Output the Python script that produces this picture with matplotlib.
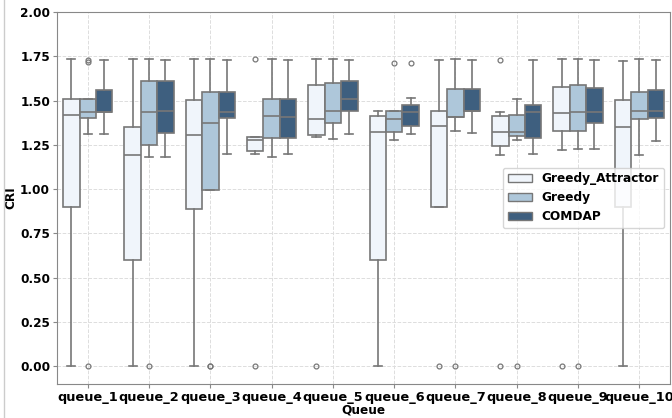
import numpy as np
import matplotlib.pyplot as plt
from matplotlib.patches import Patch
from matplotlib.lines import Line2D

queues = [f"queue_{i}" for i in range(1, 11)]
algos = ["Greedy_Attractor", "Greedy", "COMDAP"]
colors = ["#f0f5fb", "#aec7da", "#3e5f7f"]

# box stats: whislo, q1, med, q3, whishi
ga_whislo = [0.00, 0.00, 0.00, 1.197, 1.295, 0.00, 0.90, 1.195, 1.222, 0.00]
ga_q1 = [0.90, 0.60, 0.887, 1.217, 1.306, 0.60, 0.90, 1.246, 1.327, 0.90]
ga_med = [1.42, 1.195, 1.303, 1.278, 1.395, 1.32, 1.354, 1.32, 1.432, 1.351]
ga_q3 = [1.51, 1.35, 1.506, 1.292, 1.586, 1.414, 1.44, 1.412, 1.579, 1.506]
ga_whishi = [1.735, 1.735, 1.735, 1.297, 1.735, 1.44, 1.729, 1.434, 1.735, 1.726]
ga_fliers = [[], [], [], [1.735, 0.0], [0.0], [], [0.0], [1.729, 0.0], [0.0], []]

gr_whislo = [1.314, 1.179, 0.994, 1.179, 1.284, 1.278, 1.326, 1.278, 1.229, 1.192]
gr_q1 = [1.404, 1.25, 0.994, 1.289, 1.376, 1.325, 1.41, 1.302, 1.329, 1.395]
gr_med = [1.438, 1.438, 1.376, 1.415, 1.44, 1.395, 1.41, 1.325, 1.438, 1.442]
gr_q3 = [1.507, 1.611, 1.551, 1.507, 1.60, 1.44, 1.566, 1.417, 1.586, 1.549]
gr_whishi = [1.507, 1.735, 1.735, 1.735, 1.735, 1.44, 1.735, 1.507, 1.735, 1.735]
gr_fliers = [[1.73, 1.72, 0.0], [0.0], [0.0, 0.0], [], [], [1.712], [0.0], [0.0], [0.0], []]

cd_whislo = [1.312, 1.179, 1.197, 1.197, 1.312, 1.312, 1.317, 1.197, 1.229, 1.274]
cd_q1 = [1.436, 1.318, 1.404, 1.289, 1.44, 1.359, 1.44, 1.288, 1.376, 1.404]
cd_med = [1.436, 1.442, 1.438, 1.408, 1.509, 1.438, 1.44, 1.436, 1.438, 1.442]
cd_q3 = [1.562, 1.611, 1.551, 1.507, 1.611, 1.477, 1.566, 1.477, 1.573, 1.562]
cd_whishi = [1.729, 1.729, 1.729, 1.729, 1.729, 1.513, 1.729, 1.729, 1.729, 1.729]
cd_fliers = [[], [], [], [], [], [1.712], [], [], [], []]


def make_stats(whislo, q1, med, q3, whishi, fliers):
    return [dict(whislo=a, q1=b, med=c, q3=d, whishi=e, fliers=f)
            for a, b, c, d, e, f in zip(whislo, q1, med, q3, whishi, fliers)]


all_stats = [
    make_stats(ga_whislo, ga_q1, ga_med, ga_q3, ga_whishi, ga_fliers),
    make_stats(gr_whislo, gr_q1, gr_med, gr_q3, gr_whishi, gr_fliers),
    make_stats(cd_whislo, cd_q1, cd_med, cd_q3, cd_whishi, cd_fliers),
]

fig = plt.figure(figsize=(6.72, 4.18), dpi=100)
ax = fig.add_axes([0.085, 0.082, 0.912, 0.889])

edge = "#777777"
width = 0.268
x = np.arange(len(queues))
for k, stats in enumerate(all_stats):
    ax.bxp(stats, positions=x + (k - 1) * width, widths=width,
           patch_artist=True, manage_ticks=False,
           boxprops=dict(facecolor=colors[k], edgecolor=edge, linewidth=1.2),
           medianprops=dict(color=edge, linewidth=1.2),
           whiskerprops=dict(color=edge, linewidth=1.2),
           capprops=dict(color=edge, linewidth=1.2),
           flierprops=dict(marker="o", markersize=3.5, markerfacecolor="none",
                           markeredgecolor=edge, markeredgewidth=0.9))

fs = 8.7
ax.set_xlim(-0.5, len(queues) - 0.5)
ax.set_ylim(-0.1, 2.0)
ax.set_xticks(x)
ax.set_xticklabels(queues, fontsize=9.3, fontweight="bold")
ax.set_yticks([0, 0.25, 0.5, 0.75, 1.0, 1.25, 1.5, 1.75, 2.0])
ax.set_yticklabels(["0.00", "0.25", "0.50", "0.75", "1.00", "1.25", "1.50", "1.75", "2.00"],
                   fontsize=fs, fontweight="bold")
ax.set_xlabel("Queue", fontsize=fs, fontweight="bold", labelpad=0)
ax.set_ylabel("CRI", fontsize=fs, fontweight="bold", labelpad=2)
ax.grid(True, linestyle="--", color="#dddddd", linewidth=0.7)
ax.set_axisbelow(True)
for s in ax.spines.values():
    s.set_color("#888888")
ax.tick_params(axis="both", length=3, color="#888888", pad=2)

handles = [Patch(facecolor=c, edgecolor=edge, label=a) for c, a in zip(colors, algos)]
ax.legend(handles=handles, loc="center right", bbox_to_anchor=(1.0, 0.5),
          prop=dict(weight="bold", size=fs), framealpha=0.8)

fig.add_artist(Line2D([0.006, 0.006], [0.0, 1.0], color="#cccccc", linewidth=1))

fig.savefig("out.png", dpi=100)
